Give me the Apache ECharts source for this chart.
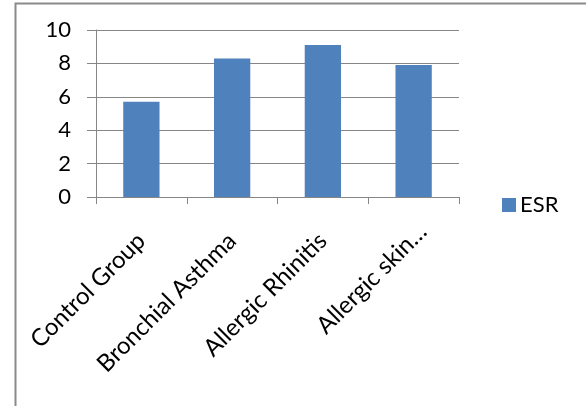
<!DOCTYPE html>
<html>
<head>
<meta charset="utf-8">
<script src="https://cdn.jsdelivr.net/npm/echarts@6/dist/echarts.min.js"></script>
<style>
html,body{margin:0;padding:0;background:#fff;}
#chart{width:586px;height:406px;}
</style>
</head>
<body>
<div id="chart"></div>
<script>
const categories = ["Control Group", "Bronchial Asthma", "Allergic Rhinitis", "Allergic skin…"];
const esrValues = [5.7, 8.3, 9.1, 7.9];
const seriesName = "ESR";
const yTicks = [0, 2, 4, 6, 8, 10];

const chart = echarts.init(document.getElementById('chart'), null, {renderer: 'canvas'});
const font = 'Lato, "Liberation Sans", sans-serif';
const categoryData = categories.map((c, i) =>
  i === categories.length - 1 ? {value: c, textStyle: {padding: [0, -13, 0, 0]}} : c);
chart.setOption({
  animation: false,
  backgroundColor: '#fff',
  graphic: [{
    type: 'rect', left: 13, top: 1, silent: true,
    shape: {x: 0, y: 0, width: 600, height: 420},
    style: {fill: 'none', stroke: '#8a8a8a', lineWidth: 2}
  }],
  grid: {left: 96, right: 127, top: 30, bottom: 209, containLabel: false},
  legend: {
    data: [seriesName], left: 497, top: 189, orient: 'vertical', padding: 5,
    itemWidth: 14, itemHeight: 14, itemGap: 5,
    icon: 'rect',
    textStyle: {fontFamily: font, fontSize: 22, color: '#000', padding: [0,0,0,-1]}
  },
  xAxis: {
    type: 'category', data: categoryData,
    axisLine: {show: true, lineStyle: {color: '#868686', width: 1}},
    axisTick: {show: true, alignWithLabel: false, length: 7, lineStyle: {color: '#868686'}},
    axisLabel: {rotate: 45, interval: 0, margin: 40, fontFamily: font, fontSize: 24, color: '#000'},
    splitLine: {show: false}
  },
  yAxis: {
    type: 'value', min: 0, max: 10, interval: 2,
    axisLine: {show: true, lineStyle: {color: '#868686', width: 1}},
    axisTick: {show: true, inside: false, length: 9, lineStyle: {color: '#868686'}},
    axisLabel: {margin: 25, fontFamily: font, fontSize: 22, color: '#000',
      formatter: v => yTicks.includes(v) ? String(v) : ''},
    splitLine: {show: true, lineStyle: {color: '#868686', width: 1}}
  },
  series: [{
    name: seriesName, type: 'bar', data: esrValues, barWidth: '40%',
    itemStyle: {color: '#4f81bd'}
  }]
});
</script>
</body>
</html>
